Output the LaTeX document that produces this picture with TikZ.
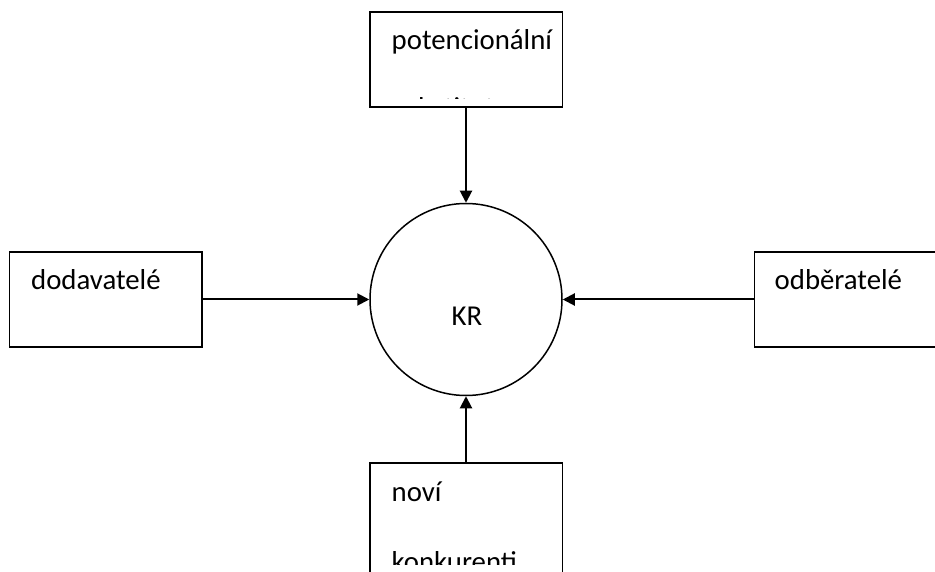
\documentclass[tikz,border=0pt]{standalone}
\usepackage{fontspec}
\setmainfont{Carlito}
\usetikzlibrary{arrows.meta, positioning, calc}
\tikzset{
	box/.style={rectangle, draw, line width=1.5pt, minimum width=192.5pt,
		minimum height=95pt, inner sep=0pt},
	krcirc/.style={circle, draw, line width=1.5pt, minimum size=192pt, inner sep=0pt},
	txt/.style={anchor=base west, inner sep=0pt, font=\fontsize{28.8}{34}\selectfont},
	arr/.style={-{Triangle[length=12pt, width=12pt]}, line width=2pt},
}

\begin{document}
\begin{tikzpicture}[x=1pt, y=-1pt]
	\useasboundingbox (0,0) rectangle (935,572);
	\node[box] (sub) at (466,59.5) {};
	\node[box, minimum height=120pt] (konk) at (466,523) {};
	\node[box] (dod) at (105.5,299.5) {};
	\node[box] (odb) at (850.5,299.5) {};
	\node[krcirc] (kr) at (466,299.5) {};
	\node[txt, anchor=base] (krlbl) at (467,326) {KR};

	\draw[arr] (sub) -- (kr);
	\draw[arr] (konk) -- (kr);
	\draw[arr] (dod) -- (kr);
	\draw[arr] (odb) -- (kr);

	\node[txt] (dodlbl) at ($(dod.north west)+(22.5,38)$) {dodavatelé};
	\node[txt] (odblbl) at ($(odb.north west)+(21,38)$) {odběratelé};

	% text clipped inside the boxes
	\begin{scope}
		\clip (sub.north west) rectangle ($(sub.south east)+(0,-9)$);
		\node[txt] (sublblA) at ($(sub.north west)+(22.5,38)$) {potencionální};
		\node[txt] (sublblB) at ($(sublblA.base west)+(0,68)$) {substituty};
	\end{scope}
	\begin{scope}
		\clip (konk.north west) rectangle ($(konk.north east)+(0,102)$);
		\node[txt] (konklblA) at ($(konk.north west)+(22.5,39)$) {noví};
		\node[txt] (konklblB) at ($(konklblA.base west)+(0,70)$) {konkurenti};
	\end{scope}
\end{tikzpicture}
\end{document}
